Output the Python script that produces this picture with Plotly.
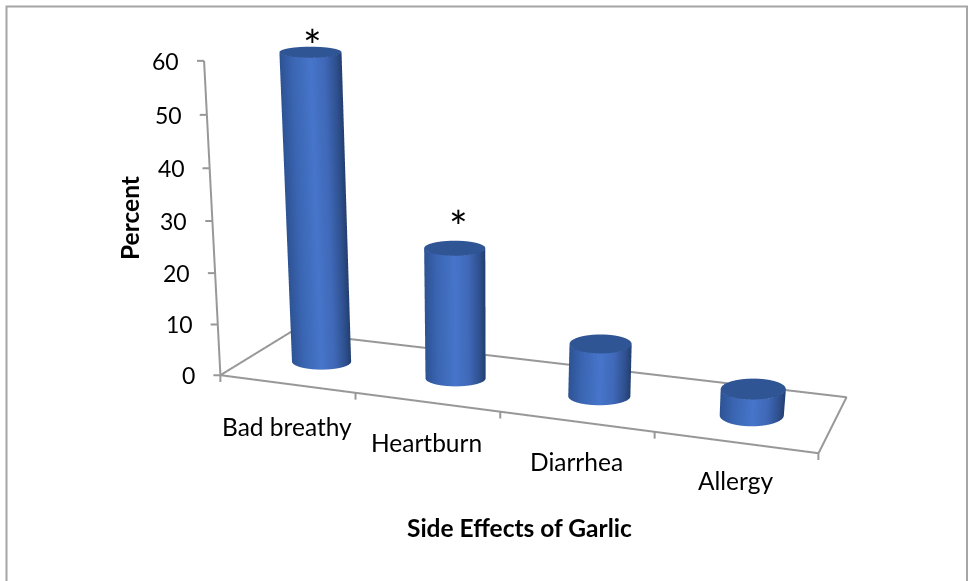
import math
import numpy as np
import plotly.graph_objects as go

# ---- data ----
categories = ["Bad breathy", "Heartburn", "Diarrhea", "Allergy"]
percent = [60, 25, 10, 5]
significant = [True, True, False, False]
value_ticks = [0, 10, 20, 30, 40, 50, 60]
x_title = "Side Effects of Garlic"
y_title = "Percent"

# ---- view / style ----
AZ, EL = math.radians(20), math.radians(21)
ca, sa, se, ce = math.cos(AZ), math.sin(AZ), math.sin(EL), math.cos(EL)
Z_PX = 336 / 60            # world units per percent
NORM = 500.0 / 1.725
EYE_R = 5.0
ORIGIN = (221, 375)        # where the floor's front-left corner should land on the page
FLOOR = dict(fl=(0, 0), fr=(635, 0), br=(608, 156), bl=(24.8, 136.7))
X_RANGE, Y_RANGE, Z_RANGE = (-60, 680), (-30, 190), (-6, 72)
GREY = "#989898"
half_w_base = [29.5, 30, 31, 32]
half_w_top = [31, 30.5, 31, 32.5]
cap_base = [8, 8, 9, 11]
cap_top = [5.5, 7.5, 9.5, 10.5]
bar_nudge = [2, 1, 0.5, -0.5]
label_dy = [-43, -40, -40, -38]
star_dx = [2, 4, 0, 0]
star_dy = [7, 22, 0, 0]
SIDE_SCALE = [[0, "#2E5394"], [0.2, "#3A65B2"], [0.5, "#4675CA"], [0.72, "#4069B8"],
              [0.9, "#2F5190"], [1, "#243F70"]]
CAP = "#305595"
FONT = "Lato"


def warp(u):
    """category position along the floor (foreshortening of the left side)"""
    return u + 0.032 * u * (u - 4)


def floor_pt(u, v):
    f = warp(u) / 4
    fx = FLOOR["fl"][0] + f * (FLOOR["fr"][0] - FLOOR["fl"][0])
    fy = FLOOR["fl"][1] + f * (FLOOR["fr"][1] - FLOOR["fl"][1])
    bx = FLOOR["bl"][0] + f * (FLOOR["br"][0] - FLOOR["bl"][0])
    by = FLOOR["bl"][1] + f * (FLOOR["br"][1] - FLOOR["bl"][1])
    return fx + v * (bx - fx), fy + v * (by - fy)


def lean(wx, z, drop=0.0):
    """verticals splay outward with height; drop lowers a point on the page"""
    dx = 0.064 * (wx - 255) * z / 60
    q = -drop / se
    return dx * ca - q * sa, dx * sa + q * ca


def bar_drop(z):
    return z * z / 720


def tick_drop(z):
    return z * (60 - z) / 300


def ellipse(cx, cy, z, R, h, t):
    p, q = R * np.cos(t), (h / se) * np.sin(t)
    lx, ly = lean(cx, z, bar_drop(z))
    return cx + lx + p * ca - q * sa, cy + ly + p * sa + q * ca


fig = go.Figure()
N = 48
FLAT = dict(ambient=1, diffuse=0, specular=0, fresnel=0)
centres = []
for i, val in enumerate(percent):
    cx, cy = floor_pt(i + 0.5, 0.5)
    cx, cy = cx + bar_nudge[i] * ca, cy + bar_nudge[i] * sa
    centres.append((cx, cy))
    t = np.linspace(math.pi, 2 * math.pi, N)
    x0, y0 = ellipse(cx, cy, 0, half_w_base[i], cap_base[i], t)
    x1, y1 = ellipse(cx, cy, val, half_w_top[i], cap_top[i], t)
    fig.add_trace(go.Surface(
        x=np.array([x0, x1]), y=np.array([y0, y1]),
        z=np.array([np.zeros(N), np.full(N, float(val))]),
        surfacecolor=np.array([np.cos(t), np.cos(t)]), cmin=-1, cmax=1,
        colorscale=SIDE_SCALE, showscale=False, hoverinfo="skip", lighting=FLAT,
    ))
    tc = np.linspace(0, 2 * math.pi, N)
    xe, ye = ellipse(cx, cy, val, half_w_top[i], cap_top[i], tc)
    lx, ly = lean(cx, val, bar_drop(val))
    fig.add_trace(go.Surface(
        x=np.array([np.full(N, cx + lx), xe]), y=np.array([np.full(N, cy + ly), ye]),
        z=np.full((2, N), float(val)),
        surfacecolor=np.zeros((2, N)), cmin=-1, cmax=1,
        colorscale=[[0, CAP], [1, CAP]], showscale=False, hoverinfo="skip", lighting=FLAT,
    ))


def line(xs, ys, zs):
    fig.add_trace(go.Scatter3d(x=xs, y=ys, z=zs, mode="lines",
                               line=dict(color=GREY, width=4),
                               hoverinfo="skip", showlegend=False))


c = [FLOOR[k] for k in ("fl", "fr", "br", "bl", "fl")]
line([p[0] for p in c], [p[1] for p in c], [0] * 5)

# value axis and its ticks
ax_x, ax_y, ax_z = [], [], []
lx, ly = lean(0, max(value_ticks))
ax_x += [0, lx, None]; ax_y += [0, ly, None]; ax_z += [0, max(value_ticks), None]
for v in value_ticks:
    lx, ly = lean(0, v, tick_drop(v))
    ax_x += [lx, lx - 7 * ca, None]; ax_y += [ly, ly - 7 * sa, None]; ax_z += [v, v, None]
line(ax_x, ax_y, ax_z)

# category ticks under the front edge
tx, ty, tz = [], [], []
for u in range(len(categories) + 1):
    wx, wy = floor_pt(u, 0)
    tx += [wx, wx, None]; ty += [wy, wy, None]; tz += [0, -1.3, None]
line(tx, ty, tz)

# text
tick_font = dict(family=FONT, size=23, color="#000000")
font = dict(family=FONT, size=24.5, color="#000000")
ann3d = []
for v in value_ticks:
    lx, ly = lean(0, v, tick_drop(v))
    ann3d.append(dict(x=lx, y=ly, z=v, text=str(v), showarrow=False, font=tick_font,
                      xanchor="right", yanchor="middle", xshift=-23, yshift=0))
for i, name in enumerate(categories):
    wx, wy = floor_pt(i + 0.5, 0)
    ann3d.append(dict(x=wx, y=wy, z=0, text=name, showarrow=False, font=font,
                      xanchor="center", yanchor="middle", xshift=0, yshift=label_dy[i]))
for i, (val, sig) in enumerate(zip(percent, significant)):
    if sig:
        cx, cy = centres[i]
        lx, ly = lean(cx, val, bar_drop(val))
        ann3d.append(dict(x=cx + lx, y=cy + ly, z=val, text="*", showarrow=False,
                          font=dict(family=FONT, size=44, color="#000000"),
                          xanchor="center", yanchor="middle",
                          xshift=star_dx[i], yshift=star_dy[i]))

# camera: all in world px, box centred at 0
P = np.array([sum(X_RANGE) / 2, sum(Y_RANGE) / 2, sum(Z_RANGE) / 2 * Z_PX])
right = np.array([ca, sa, 0.0])
upv = np.array([-sa * se, ca * se, ce])
view = np.array([sa * ce, -ca * ce, se])
bx = ORIGIN[0] + P @ right
by = ORIGIN[1] - P @ upv
target = (485.0 - bx) * right + (by - 290.5) * upv
c_n = target / NORM
e_n = c_n + EYE_R * view
span = np.array([X_RANGE[1] - X_RANGE[0], Y_RANGE[1] - Y_RANGE[0], (Z_RANGE[1] - Z_RANGE[0]) * Z_PX]) / NORM


def hidden(rng):
    return dict(visible=False, range=list(rng), showgrid=False, zeroline=False,
                showbackground=False, showspikes=False)


fig.update_layout(
    width=970, height=581, margin=dict(l=0, r=0, t=0, b=0),
    paper_bgcolor="white", showlegend=False, font=dict(family=FONT),
    scene=dict(
        domain=dict(x=[0, 1], y=[0, 1]),
        xaxis=hidden(X_RANGE), yaxis=hidden(Y_RANGE), zaxis=hidden(Z_RANGE),
        aspectmode="manual",
        aspectratio=dict(x=span[0], y=span[1], z=span[2]),
        camera=dict(
            projection=dict(type="orthographic"),
            up=dict(x=0, y=0, z=1),
            eye=dict(x=e_n[0], y=e_n[1], z=e_n[2]),
            center=dict(x=c_n[0], y=c_n[1], z=c_n[2]),
        ),
        annotations=ann3d,
    ),
    annotations=[
        dict(text=x_title, x=519 / 970, y=1 - 527 / 581, xref="paper", yref="paper", showarrow=False,
             xanchor="center", yanchor="middle",
             font=dict(family=FONT, size=24.5, color="#000000", weight="bold")),
        dict(text=y_title, x=129 / 970, y=1 - 218 / 581, xref="paper", yref="paper", showarrow=False,
             xanchor="center", yanchor="middle", textangle=-90,
             font=dict(family=FONT, size=24.5, color="#000000", weight="bold")),
    ],
    shapes=[dict(type="rect", xref="paper", yref="paper", x0=6.5 / 970, x1=967 / 970,
                 y0=-0.02, y1=1 - 6.5 / 581, line=dict(color="#A6A6A6", width=2), layer="below")],
)

fig.write_html("out.html", config=dict(displayModeBar=False),
               post_script="document.body.style.margin='0';document.body.style.overflow='hidden';")
